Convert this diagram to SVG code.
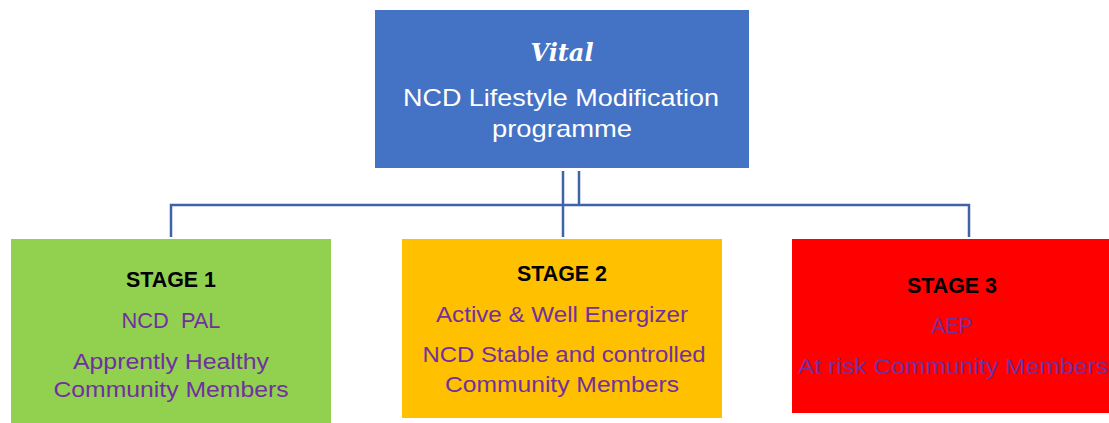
<svg xmlns="http://www.w3.org/2000/svg" width="1109" height="423" viewBox="0 0 1109 423">
<style>
.t{font-family:"Liberation Sans",Arial,sans-serif;text-anchor:middle}
.w{fill:#ffffff;font-size:24px}
.h{fill:#000000;font-size:22px;font-weight:bold}
.p{fill:#7030A0;font-size:22px}
.c{fill:none;stroke:#3F63A8;stroke-width:2.5}
</style>
<rect width="1109" height="423" fill="#ffffff"/>
<g id="connectors">
<polyline class="c" points="171,237 171,205 969,205 969,237"/>
<line class="c" x1="563" y1="171" x2="563" y2="237"/>
<line class="c" x1="579" y1="171" x2="579" y2="205"/>
</g>
<g id="root">
<rect x="375" y="10" width="374" height="158" fill="#4472C4"/>
<text class="t" x="562" y="61" fill="#ffffff" font-size="24" font-weight="bold" font-style="italic" style="font-family:'DejaVu Serif','Liberation Serif',serif">Vital</text>
<text class="t w" x="561" y="106" textLength="316" lengthAdjust="spacingAndGlyphs">NCD Lifestyle Modification</text>
<text class="t w" x="562" y="137" textLength="140" lengthAdjust="spacingAndGlyphs">programme</text>
</g>
<g id="stage1">
<rect x="11" y="239" width="320" height="184" fill="#92D050"/>
<text class="t h" x="171" y="287" textLength="90" lengthAdjust="spacingAndGlyphs">STAGE 1</text>
<text class="t p" x="171" y="328" xml:space="preserve" textLength="99" lengthAdjust="spacingAndGlyphs">NCD  PAL</text>
<text class="t p" x="171" y="369" textLength="196" lengthAdjust="spacingAndGlyphs">Apprently Healthy</text>
<text class="t p" x="171" y="397" textLength="235" lengthAdjust="spacingAndGlyphs">Community Members</text>
</g>
<g id="stage2">
<rect x="402" y="239" width="320" height="179" fill="#FFC000"/>
<text class="t h" x="562" y="281" textLength="90" lengthAdjust="spacingAndGlyphs">STAGE 2</text>
<text class="t p" x="562" y="322" textLength="252" lengthAdjust="spacingAndGlyphs">Active &amp; Well Energizer</text>
<text class="t p" x="564" y="362" textLength="283" lengthAdjust="spacingAndGlyphs">NCD Stable and controlled</text>
<text class="t p" x="562" y="392" textLength="234" lengthAdjust="spacingAndGlyphs">Community Members</text>
</g>
<g id="stage3">
<rect x="792" y="239" width="317" height="174" fill="#FF0000"/>
<text class="t h" x="952" y="293" textLength="90" lengthAdjust="spacingAndGlyphs">STAGE 3</text>
<text class="t p" x="952" y="333" textLength="41" lengthAdjust="spacingAndGlyphs">AEP</text>
<text class="t p" x="953" y="374" textLength="310" lengthAdjust="spacingAndGlyphs">At risk Community Members</text>
</g>
</svg>
